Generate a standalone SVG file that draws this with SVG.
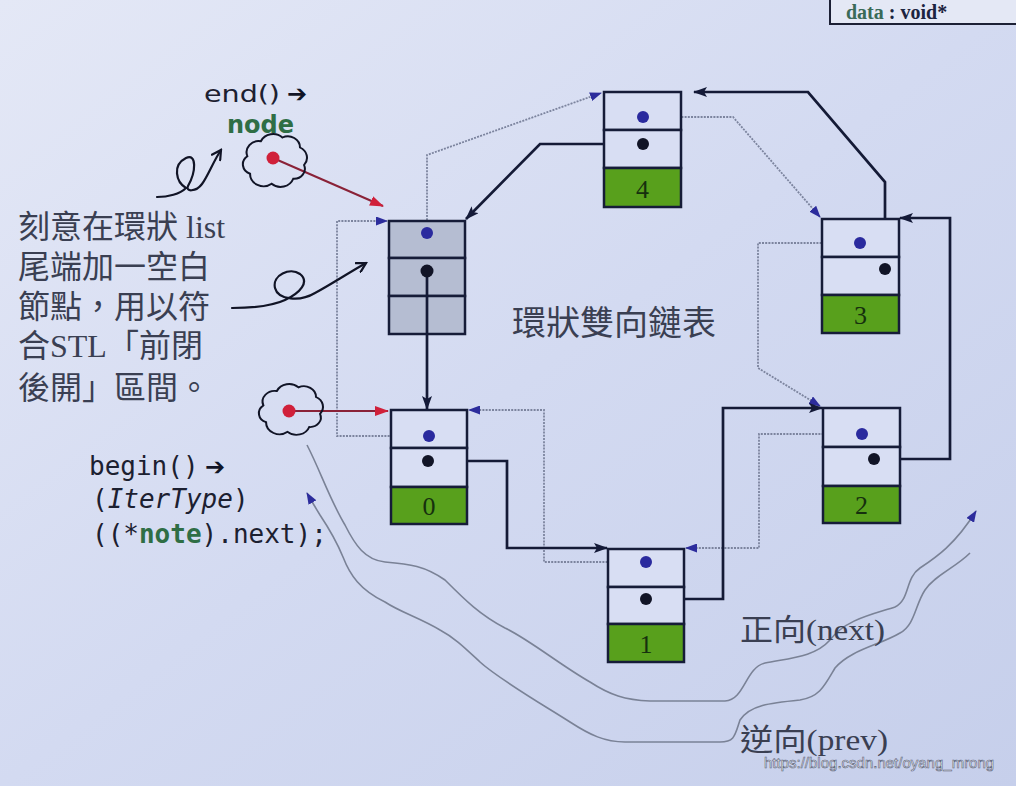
<svg xmlns="http://www.w3.org/2000/svg" width="1016" height="786" viewBox="0 0 1016 786">
<style>
.bg{fill:url(#bgg)}
.cell{fill:#d8def3;stroke:#161c38;stroke-width:2.5}
.gcell{fill:#b5bdd2;stroke:#161c38;stroke-width:2.5}
.data{fill:#58a01c;stroke:#161c38;stroke-width:2.5}
.num{font-family:"Liberation Serif",serif;font-size:26px;fill:#16300e;text-anchor:middle}
.bdot{fill:#2a2a9e}
.kdot{fill:#111426}
.nxt{fill:none;stroke:#141a36;stroke-width:2.7}
.prv{fill:none;stroke:#7c849e;stroke-width:1.8;stroke-dasharray:2 1.2}
.red{fill:none;stroke:#8a2238;stroke-width:2}
.wave{fill:none;stroke:#7a8296;stroke-width:1.6}
.hand{fill:none;stroke:#111426;stroke-width:2.2;stroke-linecap:round}
.cloud{fill:none;stroke:#111426;stroke-width:1.5}
.cjk{font-family:"Liberation Serif","Noto Sans CJK TC",serif;fill:#3a3f52}
.code{font-family:"DejaVu Sans Mono","Liberation Mono",monospace;font-size:26px;fill:#1c2030}
.sans{font-family:"DejaVu Sans","Liberation Sans",sans-serif}
</style>
<defs>
<linearGradient id="bgg" x1="0" y1="0" x2="1" y2="1">
<stop offset="0" stop-color="#e4e8f6"/>
<stop offset="0.5" stop-color="#d3daf1"/>
<stop offset="1" stop-color="#c6cfeb"/>
</linearGradient>
<marker id="ak" viewBox="0 0 14 10" refX="13" refY="5" markerWidth="14" markerHeight="10" orient="auto" markerUnits="userSpaceOnUse"><path d="M0,0 L14,5 L0,10 L3,5 z" fill="#141a38"/></marker>
<marker id="au" viewBox="0 0 12 9" refX="11" refY="4.5" markerWidth="12" markerHeight="9" orient="auto" markerUnits="userSpaceOnUse"><path d="M0,0 L12,4.5 L0,9 z" fill="#2c2c9c"/></marker>
<marker id="ar" viewBox="0 0 14 10" refX="13" refY="5" markerWidth="14" markerHeight="10" orient="auto" markerUnits="userSpaceOnUse"><path d="M0,0 L14,5 L0,10 z" fill="#d0203a"/></marker>
<marker id="av" viewBox="0 0 12 12" refX="10" refY="6" markerWidth="12" markerHeight="12" orient="auto" markerUnits="userSpaceOnUse"><path d="M1,1 L10,6 L1,11" fill="none" stroke="#111426" stroke-width="2.2" stroke-linecap="round"/></marker>
<path id="cloudp" d="M-17,11 a8,8 0 0 1 -2,-14 a9,9 0 0 1 10,-12 a10,10 0 0 1 16,-3 a9,9 0 0 1 13,8 a9,9 0 0 1 3,14 a8,8 0 0 1 -8,11 a10,10 0 0 1 -16,4 a10,10 0 0 1 -16,-8 z"/>
</defs>
<rect class="bg" x="0" y="0" width="1016" height="786"/>

<g id="classbox">
<rect x="830" y="-12" width="200" height="36" fill="#e4e8f5" stroke="#1c2035" stroke-width="2"/>
<text x="846" y="19" font-family="Liberation Serif,serif" font-size="20" font-weight="bold"><tspan fill="#3a6a58">data</tspan><tspan fill="#1c2440"> : void*</tspan></text>
</g>

<g id="connectors">
<path class="prv" d="M427,233 V155 L601,93" marker-end="url(#au)"/>
<path class="prv" d="M428,436 H337 V221 H387" marker-end="url(#au)"/>
<path class="prv" d="M646,562 H544 V410 H469" marker-end="url(#au)"/>
<path class="prv" d="M862,434 H759 V548 H686" marker-end="url(#au)"/>
<path class="prv" d="M860,243 H758 V368 L820,406" marker-end="url(#au)"/>
<path class="prv" d="M643,117 H733 L820,217" marker-end="url(#au)"/>
<path class="nxt" d="M427,271 V409" marker-end="url(#ak)"/>
<path class="nxt" d="M428,461 H507 V548 H607" marker-end="url(#ak)"/>
<path class="nxt" d="M646,599 H723 V408 H822" marker-end="url(#ak)"/>
<path class="nxt" d="M874,459 H950 V218 H900" marker-end="url(#ak)"/>
<path class="nxt" d="M885,269 V182 L808,92 H694" marker-end="url(#ak)"/>
<path class="nxt" d="M643,144 H540 L466,219" marker-end="url(#ak)"/>
<path class="red" d="M273,158 L383,206" marker-end="url(#ar)"/>
<path class="red" d="M289,411 H388" marker-end="url(#ar)"/>
<path class="wave" d="M307,445 C320,470 330,500 345,525 C355,545 365,560 385,562 C410,564 425,566 445,580 C465,600 480,615 505,628 C530,640 560,665 590,682 C610,695 625,700 650,701 L725,701 C745,700 745,668 765,663 C790,658 815,657 830,640 C845,620 870,615 895,607 C910,600 905,578 920,568 C935,558 955,545 976,511" marker-end="url(#au)"/>
<path class="wave" d="M970,553 C955,568 935,575 925,590 C915,605 915,625 900,633 C880,645 850,650 835,668 C825,685 820,697 800,700 C770,703 750,705 740,720 C735,735 735,742 720,742 L625,742 C605,742 590,735 570,722 C545,706 500,680 480,662 C465,648 455,638 440,630 C420,618 400,612 385,602 C360,590 350,575 343,557 C336,540 330,530 320,515 C315,507 311,500 307,493" marker-end="url(#au)"/>
<path class="hand" d="M157,197 C168,197 180,194 186,188 C176,182 172,165 186,158 C197,153 196,172 188,186 C185,192 196,192 202,184 C208,176 213,162 221,150" marker-end="url(#av)"/>
<path class="hand" d="M232,308 C250,308 270,307 285,300 C300,293 310,282 300,274 C290,267 272,275 275,288 C278,300 300,302 315,293 C330,285 345,275 366,263" marker-end="url(#av)"/>
</g>

<g id="cloud-end">
<use href="#cloudp" class="cloud" transform="translate(273,160) scale(1.35,1.25)"/>
<circle cx="273" cy="158" r="6.5" fill="#d0203a"/>
</g>
<g id="cloud-begin">
<use href="#cloudp" class="cloud" transform="translate(289,409) scale(1.35,1.2)"/>
<circle cx="289" cy="411" r="6.5" fill="#d0203a"/>
</g>

<g id="node-end">
<rect class="gcell" x="389" y="221" width="76" height="37"/>
<rect class="gcell" x="389" y="258" width="76" height="38"/>
<rect class="gcell" x="389" y="296" width="76" height="38"/>
<line x1="427" y1="271" x2="427" y2="334" stroke="#141a36" stroke-width="2.7"/>
<circle class="bdot" cx="427" cy="233" r="6"/>
<circle class="kdot" cx="427" cy="271" r="6.5"/>
</g>

<g id="node-4">
<rect class="cell" x="604" y="92" width="77" height="38"/>
<rect class="cell" x="604" y="130" width="77" height="38"/>
<rect class="data" x="604" y="168" width="77" height="39"/>
<text class="num" x="642.5" y="198">4</text>
<circle class="bdot" cx="643" cy="117" r="6"/>
<circle class="kdot" cx="643" cy="144" r="6"/>
</g>

<g id="node-3">
<rect class="cell" x="822" y="219" width="77" height="38"/>
<rect class="cell" x="822" y="257" width="77" height="38"/>
<rect class="data" x="822" y="295" width="77" height="38"/>
<text class="num" x="860.5" y="324">3</text>
<circle class="bdot" cx="860" cy="243" r="6"/>
<circle class="kdot" cx="885" cy="269" r="6"/>
</g>

<g id="node-2">
<rect class="cell" x="823" y="408" width="77" height="39"/>
<rect class="cell" x="823" y="447" width="77" height="39"/>
<rect class="data" x="823" y="486" width="77" height="37"/>
<text class="num" x="861.5" y="514">2</text>
<circle class="bdot" cx="862" cy="434" r="6"/>
<circle class="kdot" cx="874" cy="459" r="6"/>
</g>

<g id="node-1">
<rect class="cell" x="608" y="549" width="76" height="38"/>
<rect class="cell" x="608" y="587" width="76" height="37"/>
<rect class="data" x="608" y="624" width="76" height="38"/>
<text class="num" x="646" y="653">1</text>
<circle class="bdot" cx="646" cy="562" r="6"/>
<circle class="kdot" cx="646" cy="599" r="6"/>
</g>

<g id="node-0">
<rect class="cell" x="391" y="410" width="76" height="38"/>
<rect class="cell" x="391" y="448" width="76" height="39"/>
<rect class="data" x="391" y="487" width="76" height="37"/>
<text class="num" x="429" y="515">0</text>
<circle class="bdot" cx="429" cy="436" r="6"/>
<circle class="kdot" cx="428" cy="461" r="6"/>
</g>

<g id="labels">
<text class="sans" x="204" y="102" font-size="23" fill="#1c2030" textLength="76" lengthAdjust="spacingAndGlyphs">end()</text>
<text class="sans" x="287" y="102" font-size="24" font-weight="bold" fill="#111426">➔</text>
<text class="sans" x="227" y="133" font-size="24" font-weight="bold" fill="#2f6e45">node</text>
<text class="cjk" font-size="32">
<tspan x="18" y="238">刻意在環狀 list</tspan>
<tspan x="18" y="278">尾端加一空白</tspan>
<tspan x="18" y="318">節點，用以符</tspan>
<tspan x="18" y="357">合STL「前閉</tspan>
<tspan x="18" y="399">後開」區間。</tspan>
</text>
<text class="cjk" x="512" y="335" font-size="34">環狀雙向鏈表</text>
<text class="code" x="89" y="475">begin()</text>
<text class="sans" x="205" y="475" font-size="24" font-weight="bold" fill="#111426">➔</text>
<text class="code" x="92" y="508">(<tspan font-style="italic">IterType</tspan>)</text>
<text class="code" x="92" y="543">((*<tspan fill="#2f6e45" font-weight="bold">note</tspan>).next);</text>
<text class="cjk" x="740" y="640" font-size="30" textLength="145" lengthAdjust="spacingAndGlyphs">正向(next)</text>
<text class="cjk" x="740" y="750" font-size="30" textLength="148" lengthAdjust="spacingAndGlyphs">逆向(prev)</text>
<text x="764" y="768" font-family="Liberation Sans,sans-serif" font-size="15" fill="#f6f7fb" stroke="#5a6278" stroke-width="0.6">https://blog.csdn.net/oyang_mrong</text>
</g>
</svg>
